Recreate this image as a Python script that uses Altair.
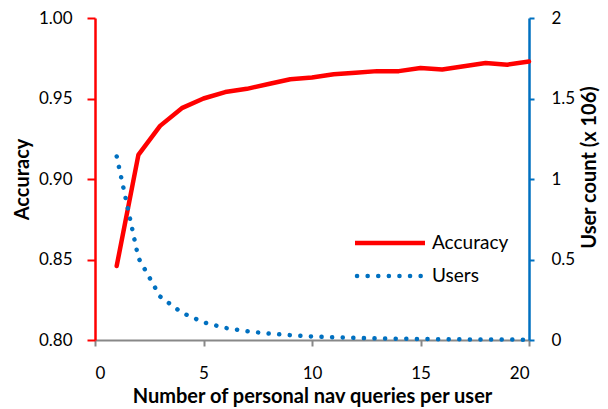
import altair as alt
import pandas as pd

queries = list(range(1, 21))
accuracy = [0.846, 0.915, 0.933, 0.944, 0.950, 0.954, 0.956, 0.959, 0.962, 0.963,
            0.965, 0.966, 0.967, 0.967, 0.969, 0.968, 0.970, 0.972, 0.971, 0.973]
users = [1.14, 0.51, 0.27, 0.17, 0.11, 0.075, 0.055, 0.04, 0.03, 0.022,
         0.017, 0.013, 0.01, 0.008, 0.006, 0.005, 0.004, 0.003, 0.0025, 0.002]

legend_names = ["Accuracy", "Users"]

df = pd.DataFrame({"x": queries, "acc": accuracy, "users": users})

FONT = "Lato"
RED = "#FF0000"
BLUE = "#0070C0"
GRAY = "#888888"
H = 322

xenc = alt.X("x:Q", scale=alt.Scale(domain=[0, 20], nice=False),
             axis=alt.Axis(values=[0, 5, 10, 15, 20], domainColor=GRAY, tickColor=GRAY,
                           domainWidth=2, tickWidth=2, tickSize=6, labelFontSize=17,
                           labelColor="black", labelPadding=19, labelFont=FONT,
                           title="Number of personal nav queries per user",
                           titleFont=FONT, titleFontSize=20, titleFontWeight="bold",
                           titleY=62, titleBaseline="alphabetic",
                           titleColor="black", grid=False))

acc_line = alt.Chart(df).mark_line(color=RED, strokeWidth=4.5, strokeCap="round",
                                   strokeJoin="round").encode(
    x=xenc,
    y=alt.Y("acc:Q", scale=alt.Scale(domain=[0.8, 1.0], nice=False, zero=False),
            axis=alt.Axis(orient="left", values=[0.8, 0.85, 0.9, 0.95, 1.0], format=".2f",
                          domainColor=RED, tickColor=RED, domainWidth=2.5, tickWidth=2,
                          tickSize=8, labelFontSize=17, labelFont=FONT, labelColor="black",
                          labelPadding=15, title="Accuracy", titleFont=FONT,
                          titleFontSize=20, titleFontWeight="bold",
                          titleX=-73, titleY=H / 2, titleAngle=270, titleAlign="center",
                          titleBaseline="middle",
                          titleColor="black", grid=False)),
)

users_line = alt.Chart(df).mark_line(color=BLUE, strokeWidth=4.5, strokeCap="round",
                                     strokeDash=[0.1, 10.5]).encode(
    x=xenc,
    y=alt.Y("users:Q", scale=alt.Scale(domain=[0, 2], nice=False),
            axis=alt.Axis(orient="right", values=[0, 0.5, 1, 1.5, 2], format="~g",
                          domainColor=BLUE, tickColor=BLUE, domainWidth=2.5, tickWidth=2,
                          tickSize=5, labelFontSize=17, labelFont=FONT, labelColor="black",
                          labelAlign="left", labelPadding=17,
                          title="User count  (x 106)", titleFont=FONT,
                          titleFontSize=20, titleFontWeight="bold",
                          titleX=60, titleY=149, titleAngle=270, titleAlign="center",
                          titleBaseline="middle",
                          titleColor="black", grid=False)),
)

leg_acc = alt.Chart(pd.DataFrame({"name": [legend_names[0]]})).mark_rule(
    color=RED, strokeWidth=4.5).encode(
    x=alt.value(260), x2=alt.value(330), y=alt.value(225))
leg_users = alt.Chart(pd.DataFrame({"name": [legend_names[1]]})).mark_rule(
    color=BLUE, strokeWidth=4.5, strokeCap="round", strokeDash=[0.1, 10.5]).encode(
    x=alt.value(262), x2=alt.value(332), y=alt.value(258))
leg_text = alt.Chart(pd.DataFrame({"name": legend_names, "py": [225, 258]})).mark_text(
    align="left", baseline="middle", fontSize=19, font=FONT, color="black").encode(
    x=alt.value(337), y=alt.Y("py:Q", scale=None), text="name:N")

chart = alt.layer(acc_line, users_line, leg_acc, leg_users, leg_text).resolve_scale(
    y="independent"
).properties(
    width=434, height=H,
    autosize=alt.AutoSizeParams(type="none"),
    padding={"left": 87, "top": 10, "right": 71, "bottom": 68},
).configure_view(stroke=None)

chart.save("out.html", embed_options={"renderer": "svg", "actions": False})
